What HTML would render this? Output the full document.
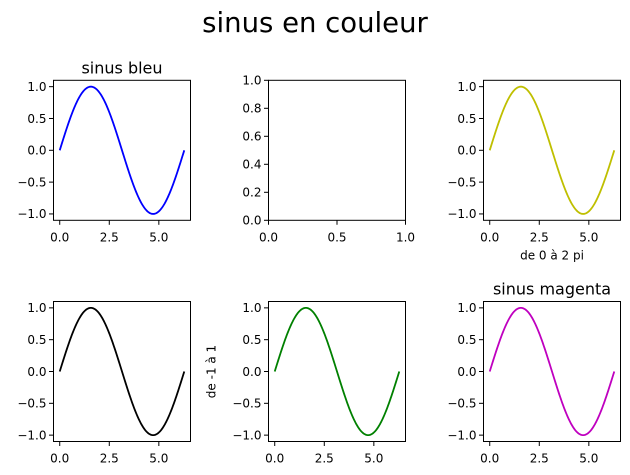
<!DOCTYPE html>
<html><head><meta charset="utf-8"><style>
html,body{margin:0;padding:0;background:#fff;width:630px;height:475px;overflow:hidden}
svg{display:block}
svg text{font-family:"DejaVu Sans","Liberation Sans",sans-serif;fill:#000}
</style></head><body>
<svg id="s" width="630" height="475" xmlns="http://www.w3.org/2000/svg">
<text x="315" y="32" font-size="27.5" text-anchor="middle">sinus en couleur</text>
</svg>
<script>
const s=document.getElementById('s');const NS='http://www.w3.org/2000/svg';
function el(t,a,txt){const e=document.createElementNS(NS,t);for(const k in a)e.setAttribute(k,a[k]);if(txt!==undefined)e.textContent=txt;s.appendChild(e);return e;}
const W=137,H=140;
function axes(L,T,color,opts){
  opts=opts||{};
  let xmin,xmax,ymin,ymax,xt,yt,xl,yl;
  if(color){xmin=-0.05*2*Math.PI;xmax=2*Math.PI*1.05;ymin=-1.1;ymax=1.1;xt=[0,2.5,5];xl=['0.0','2.5','5.0'];yt=[-1,-0.5,0,0.5,1];yl=['\u22121.0','\u22120.5','0.0','0.5','1.0'];}
  else{xmin=0;xmax=1;ymin=0;ymax=1;xt=[0,0.5,1];xl=['0.0','0.5','1.0'];yt=[0,0.2,0.4,0.6,0.8,1];yl=['0.0','0.2','0.4','0.6','0.8','1.0'];}
  const X=v=>L+(v-xmin)/(xmax-xmin)*W, Y=v=>T+H-(v-ymin)/(ymax-ymin)*H;
  if(color){let d='';for(let i=0;i<=200;i++){const t=i/200*2*Math.PI;d+=(i?'L':'M')+X(t).toFixed(2)+' '+Y(Math.sin(t)).toFixed(2);}
    el('path',{d:d,fill:'none',stroke:color,'stroke-width':1.8});}
  el('rect',{x:L,y:T,width:W,height:H,fill:'none',stroke:'#000','stroke-width':1});
  xt.forEach((v,i)=>{const x=X(v);el('line',{x1:x,x2:x,y1:T+H,y2:T+H+4.5,stroke:'#000','stroke-width':1});el('text',{x:x,y:T+H+21,'font-size':12,'text-anchor':'middle'},xl[i]);});
  yt.forEach((v,i)=>{const y=Y(v);el('line',{x1:L,x2:L-4.5,y1:y,y2:y,stroke:'#000','stroke-width':1});el('text',{x:L-7,y:y+4.3,'font-size':12,'text-anchor':'end'},yl[i]);});
  if(opts.title)el('text',{x:L+W/2,y:T-7,'font-size':16,'text-anchor':'middle'},opts.title);
  if(opts.xlabel)el('text',{x:L+W/2,y:T+H+39,'font-size':12,'text-anchor':'middle'},opts.xlabel);
  if(opts.ylabel)el('text',{x:0,y:0,'font-size':12,'text-anchor':'middle',transform:'translate('+(L-53)+','+(T+H/2)+') rotate(-90)'},opts.ylabel);
}
const cols=[53.5,268.5,483.5],rows=[80.3,301.5];
axes(cols[0],rows[0],'#0000ff',{title:'sinus bleu'});
axes(cols[1],rows[0],null);
axes(cols[2],rows[0],'#bfbf00',{xlabel:'de 0 à 2 pi'});
axes(cols[0],rows[1],'#000000');
axes(cols[1],rows[1],'#008000',{ylabel:'de -1 à 1'});
axes(cols[2],rows[1],'#bf00bf',{title:'sinus magenta'});
</script>
</body></html>
